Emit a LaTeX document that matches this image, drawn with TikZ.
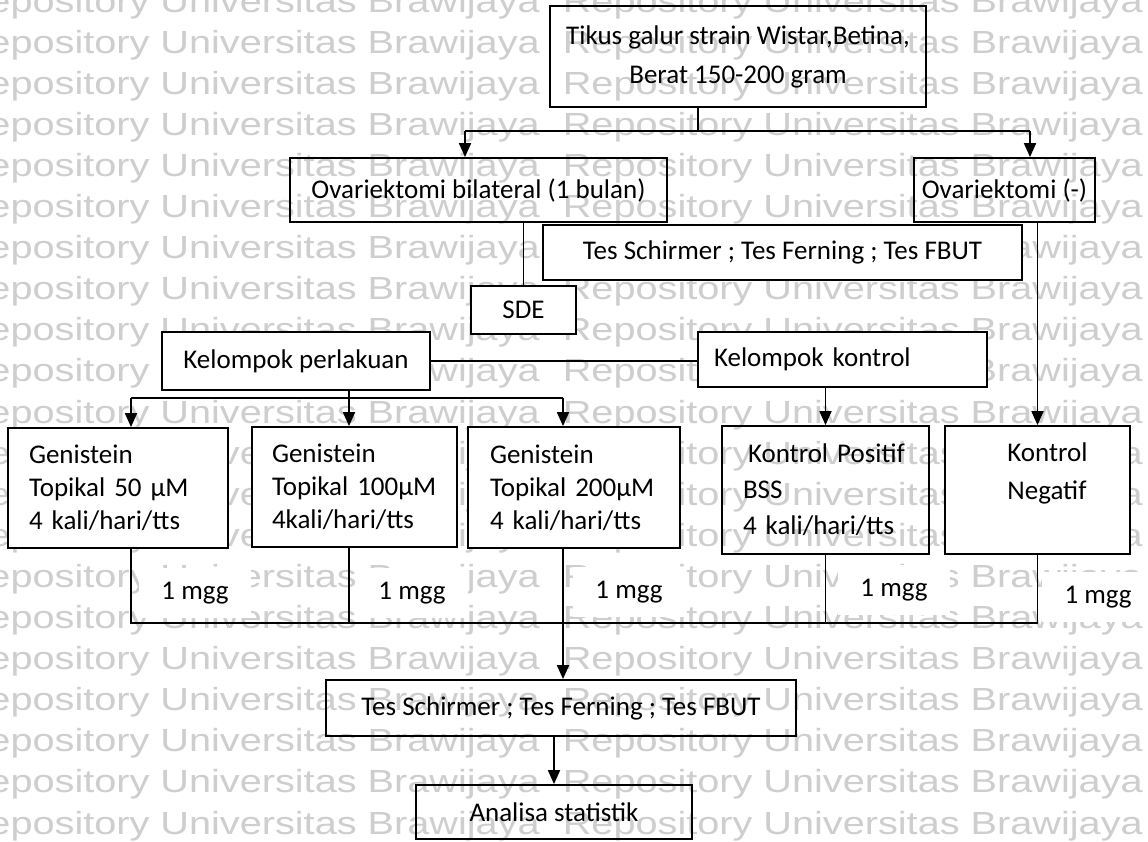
\documentclass[tikz,border=0pt]{standalone}
\usepackage{fontspec}
\usepackage{graphicx}
\usetikzlibrary{arrows.meta}
\newfontfamily\calib{Carlito}
\newfontfamily\wmfont{Liberation Sans}
\definecolor{wmgray}{RGB}{206,206,206}
\newcommand\lbl{\calib\fontsize{27}{33}\selectfont}
\newcommand\wmline{\scalebox{1.24}[1]{Repository Universitas Brawijaya}}

\begin{document}
\begin{tikzpicture}[x=1pt,y=-1pt,
  box/.style={draw, line width=1.8pt, inner sep=0pt, font=\lbl},
  wbox/.style={box, fill=white},
  ln/.style={line width=1.8pt},
  arr/.style={line width=1.8pt, -{Triangle[length=14pt,width=12pt]}},
  wk/.style={font=\wmfont\fontsize{32}{32}\selectfont, text=wmgray, inner sep=0pt, anchor=base east},
  tag/.style={fill=white, inner sep=0pt, minimum width=112pt, minimum height=50pt, font=\lbl}
]
\useasboundingbox (0,0) rectangle (1148,841);
\fill[white] (0,0) rectangle (1148,841);

% background watermark rows
\foreach \k in {0,...,20}{
  \node[wk] (wa\k) at (540,12+41.1*\k) {\wmline};
  \node[wk] (wb\k) at (1143,12+41.1*\k) {\wmline};
}

% boxes
\node[box, minimum width=376pt, minimum height=101pt, align=center,
      font=\calib\fontsize{27}{39}\selectfont] (tikus) at (738,56.5)
      {Tikus galur strain Wistar,Betina,\\Berat 150-200 gram};
\node[box, minimum width=377pt, minimum height=64pt] (ovb) at (478.5,190) {Ovariektomi bilateral (1 bulan)};
\node[box, minimum width=181pt, minimum height=64pt] (ovn) at (1004.5,190) {Ovariektomi (-)};
\node[wbox, minimum width=479pt, minimum height=55pt] (tes1) at (782.5,252.5) {Tes Schirmer ; Tes Ferning ; Tes FBUT};
\node[wbox, minimum width=105pt, minimum height=48pt] (sde) at (523.5,310) {SDE};
\node[wbox, minimum width=268pt, minimum height=58pt] (perl) at (296,361) {Kelompok perlakuan};
\node[wbox, minimum height=55pt, text width=257pt, inner xsep=16pt, align=left] (kont) at (842.5,359.5) {Kelompok kontrol};

\node[wbox, minimum height=120pt, text width=178pt, inner xsep=21pt, align=left] (g1) at (118,488)
      {Genistein\\Topikal 50 µM\\4 kali/hari/tts};
\node[wbox, minimum height=120pt, text width=165pt, inner xsep=20pt, align=left] (g2) at (354.5,487)
      {Genistein\\Topikal 100µM\\4kali/hari/tts};
\node[wbox, minimum height=121pt, text width=168pt, inner xsep=22pt, align=left] (g3) at (574,487.5)
      {Genistein\\Topikal 200µM\\4 kali/hari/tts};
\node[box, minimum height=128pt, text width=165pt, inner xsep=21pt, align=left,
      font=\calib\fontsize{27}{36}\selectfont] (kp) at (825.5,490)
      {\hspace*{5pt}Kontrol Positif\\BSS\\4 kali/hari/tts};
\node[wbox, minimum width=185pt, minimum height=128pt, align=left,
      font=\calib\fontsize{27}{38}\selectfont] (kn) at (1037.5,490)
      {\hspace*{20pt}Kontrol\\\hspace*{20pt}Negatif\\~};

\node[tag] (m1) at (195,593) {1 mgg};
\node[tag] (m2) at (412,593) {1 mgg};
\node[tag] (m3) at (629,592) {1 mgg};
\node[tag] (m4) at (894,590) {1 mgg};
\node[tag] (m5) at (1098,597) {1 mgg};

\node[box, minimum width=470pt, minimum height=56pt] (tes2) at (561,708) {Tes Schirmer ; Tes Ferning ; Tes FBUT};
\node[box, minimum width=276pt, minimum height=54pt] (anal) at (554,812) {Analisa statistik};

% junction points
\coordinate (j1) at (698,131);
\coordinate (jl) at (465,131);
\coordinate (jr) at (1030,131);
\coordinate (jp) at (349,398);
\coordinate (jpl) at (131,398);
\coordinate (jpr) at (563,398);
\coordinate (bot) at (0,623);

% connectors
\draw[ln] (j1 |- tikus.south) -- (j1);
\draw[ln] (jl) -- (jr);
\draw[arr] (jl) -- (jl |- ovb.north);
\draw[arr] (jr) -- (jr |- ovn.north);

\draw[ln] (sde.north |- ovb.south) -- (sde.north);
\draw[ln] (perl.east) -- (perl.east -| kont.west);

\draw[ln] (jp |- perl.south) -- (jp);
\draw[ln] (jpl) -- (jpr);
\draw[arr] (jpl) -- (jpl |- g1.north);
\draw[arr] (jp) -- (jp |- g2.north);
\draw[arr] (jpr) -- (jpr |- g3.north);

\draw[arr] (kp.north |- kont.south) -- (kp.north);
\draw[arr] (kn.north |- ovn.south) -- (kn.north);

\draw[ln] (jpl |- g1.south) -- (jpl |- bot) -- (kn.south |- bot) -- (kn.south);
\draw[ln] (jp |- g2.south) -- (jp |- bot);
\draw[ln] (kp.south) -- (kp.south |- bot);
\draw[arr] (jpr |- g3.south) -- (jpr |- tes2.north);
\draw[arr] (anal.north |- tes2.south) -- (anal.north);
\end{tikzpicture}
\end{document}
